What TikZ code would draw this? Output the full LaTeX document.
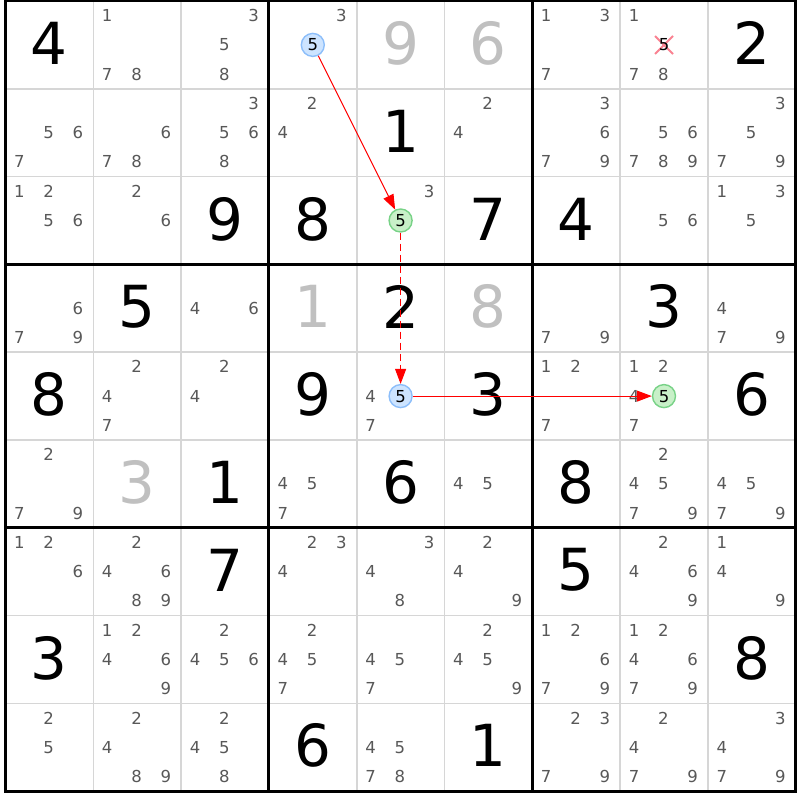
\documentclass[tikz,border=0pt]{standalone}
\usepackage{fontspec}
\setmainfont{DejaVu Sans}
\usetikzlibrary{arrows.meta}
\definecolor{candgray}{RGB}{88,88,88}
\definecolor{givengray}{RGB}{192,192,192}
\definecolor{thingray}{RGB}{214,214,214}
\definecolor{hlblue}{RGB}{205,228,255}
\definecolor{hlblueline}{RGB}{140,190,250}
\definecolor{hlgreen}{RGB}{200,240,200}
\definecolor{hlgreenline}{RGB}{120,210,135}
\definecolor{xpink}{RGB}{250,130,145}
\newcommand{\candset}[3]{%
  \foreach \d in {#3}{%
    \pgfmathsetmacro\xx{5.5+(#2-1)*87.8+(mod(\d-1,3)+0.5)*87.8/3-0.7}%
    \pgfmathsetmacro\yy{1+(#1-1)*87.8+(floor((\d-1)/3)+0.5)*87.8/3}%
    \node[cand] (k#1#2\d) at (\xx,\yy) {\d};}}
\newcommand{\givendigit}[4]{%
  \pgfmathsetmacro\xx{5.5+(#2-0.5)*87.8}%
  \pgfmathsetmacro\yy{1+(#1-0.5)*87.8-1.5}%
  \node[#4] (g#1#2) at (\xx,\yy) {#3};}
\tikzset{
  cand/.style={inner sep=0pt, text=candgray, font=\fontsize{16.5}{16.5}\selectfont},
  bigblack/.style={inner sep=0pt, text=black, font=\fontsize{58}{58}\selectfont},
  biggray/.style={inner sep=0pt, text=givengray, font=\fontsize{58}{58}\selectfont},
  thinline/.style={draw=thingray, line width=1.6pt},
  thickline/.style={draw=black, line width=3pt},
  hlb/.style={circle, minimum size=23pt, inner sep=0pt, fill=hlblue, draw=hlblueline, line width=1.4pt, text=black, font=\fontsize{16.5}{16.5}\selectfont},
  hlg/.style={circle, minimum size=23pt, inner sep=0pt, fill=hlgreen, draw=hlgreenline, line width=1.4pt, text=black, font=\fontsize{16.5}{16.5}\selectfont},
  link/.style={draw=red, line width=1pt, -{Triangle[length=15pt,width=11pt]}},
  elimx/.style={draw=xpink, line width=2pt}
}
\begin{document}
\begin{tikzpicture}[x=1pt,y=-1pt]
\useasboundingbox (0,0) rectangle (800,800);
\fill[white] (0,0) rectangle (800,800);
% thin grid lines
\foreach \i in {1,2,4,5,7,8}{
  \draw[thinline] ({5.5+\i*87.8},1) -- ({5.5+\i*87.8},791.2);
  \draw[thinline] (5.5,{1+\i*87.8}) -- (795.7,{1+\i*87.8});
}
% thick lines
\foreach \i in {3,6}{
  \draw[thickline] ({5.5+\i*87.8},1) -- ({5.5+\i*87.8},791.2);
  \draw[thickline] (5.5,{1+\i*87.8}) -- (795.7,{1+\i*87.8});
}
\draw[thickline] (5.5,1) rectangle (795.7,791.2);
% givens
\givendigit{1}{1}{4}{bigblack}
\givendigit{1}{5}{9}{biggray}
\givendigit{1}{6}{6}{biggray}
\givendigit{1}{9}{2}{bigblack}
\givendigit{2}{5}{1}{bigblack}
\givendigit{3}{3}{9}{bigblack}
\givendigit{3}{4}{8}{bigblack}
\givendigit{3}{6}{7}{bigblack}
\givendigit{3}{7}{4}{bigblack}
\givendigit{4}{2}{5}{bigblack}
\givendigit{4}{4}{1}{biggray}
\givendigit{4}{5}{2}{bigblack}
\givendigit{4}{6}{8}{biggray}
\givendigit{4}{8}{3}{bigblack}
\givendigit{5}{1}{8}{bigblack}
\givendigit{5}{4}{9}{bigblack}
\givendigit{5}{6}{3}{bigblack}
\givendigit{5}{9}{6}{bigblack}
\givendigit{6}{2}{3}{biggray}
\givendigit{6}{3}{1}{bigblack}
\givendigit{6}{5}{6}{bigblack}
\givendigit{6}{7}{8}{bigblack}
\givendigit{7}{3}{7}{bigblack}
\givendigit{7}{7}{5}{bigblack}
\givendigit{8}{1}{3}{bigblack}
\givendigit{8}{9}{8}{bigblack}
\givendigit{9}{4}{6}{bigblack}
\givendigit{9}{6}{1}{bigblack}
% candidates
\candset{1}{2}{1,7,8}
\candset{1}{3}{3,5,8}
\candset{1}{4}{3}
\candset{1}{7}{1,3,7}
\candset{1}{8}{1,7,8}
\candset{2}{1}{5,6,7}
\candset{2}{2}{6,7,8}
\candset{2}{3}{3,5,6,8}
\candset{2}{4}{2,4}
\candset{2}{6}{2,4}
\candset{2}{7}{3,6,7,9}
\candset{2}{8}{5,6,7,8,9}
\candset{2}{9}{3,5,7,9}
\candset{3}{1}{1,2,5,6}
\candset{3}{2}{2,6}
\candset{3}{5}{3}
\candset{3}{8}{5,6}
\candset{3}{9}{1,3,5}
\candset{4}{1}{6,7,9}
\candset{4}{3}{4,6}
\candset{4}{7}{7,9}
\candset{4}{9}{4,7,9}
\candset{5}{2}{2,4,7}
\candset{5}{3}{2,4}
\candset{5}{5}{4,7}
\candset{5}{7}{1,2,7}
\candset{5}{8}{1,2,4,7}
\candset{6}{1}{2,7,9}
\candset{6}{4}{4,5,7}
\candset{6}{6}{4,5}
\candset{6}{8}{2,4,5,7,9}
\candset{6}{9}{4,5,7,9}
\candset{7}{1}{1,2,6}
\candset{7}{2}{2,4,6,8,9}
\candset{7}{4}{2,3,4}
\candset{7}{5}{3,4,8}
\candset{7}{6}{2,4,9}
\candset{7}{8}{2,4,6,9}
\candset{7}{9}{1,4,9}
\candset{8}{2}{1,2,4,6,9}
\candset{8}{3}{2,4,5,6}
\candset{8}{4}{2,4,5,7}
\candset{8}{5}{4,5,7}
\candset{8}{6}{2,4,5,9}
\candset{8}{7}{1,2,6,7,9}
\candset{8}{8}{1,2,4,6,7,9}
\candset{9}{1}{2,5}
\candset{9}{2}{2,4,8,9}
\candset{9}{3}{2,4,5,8}
\candset{9}{5}{4,5,7,8}
\candset{9}{7}{2,3,7,9}
\candset{9}{8}{2,4,7,9}
\candset{9}{9}{3,4,7,9}
% eliminated candidate
\draw[elimx] (655,36) -- (673,54);
\draw[elimx] (655,54) -- (673,36);
\node[cand, text=black] (e185) at (664,44.9) {5};
% highlighted candidates
\node[hlb] (s1) at (312.8,44.9) {5};
\node[hlg] (s2) at (400.6,220.5) {5};
\node[hlb] (s3) at (400.6,396.1) {5};
\node[hlg] (s4) at (664,396.1) {5};
% links
\draw[link] (s1) -- (s2);
\draw[link, dash pattern=on 7pt off 4pt] (s2) -- (s3);
\draw[link] (s3) -- (s4);
\end{tikzpicture}
\end{document}
